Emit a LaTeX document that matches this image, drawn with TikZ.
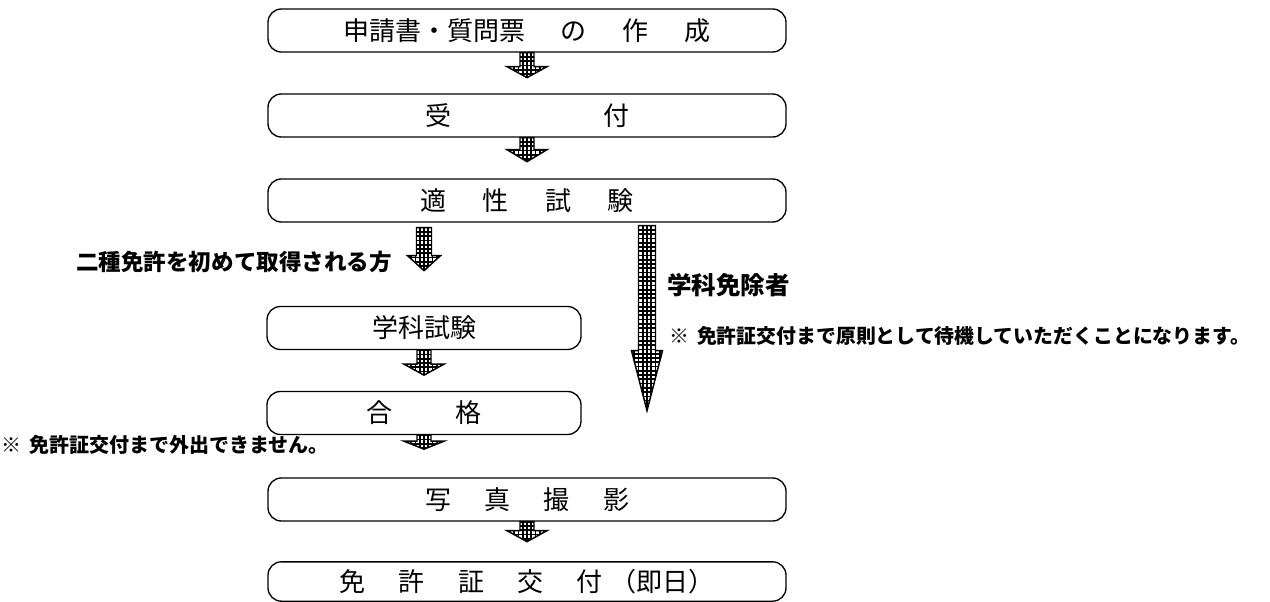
\documentclass[tikz,border=0pt]{standalone}
\usepackage{fontspec}
\setmainfont{Noto Sans CJK JP}
\usetikzlibrary{calc}
\tikzset{
  box/.style={draw, line width=1pt, rounded corners=10pt, inner sep=0pt,
    minimum height=32.25pt, font=\fontsize{19.5pt}{21pt}\selectfont},
  widebox/.style={box, minimum width=388.5pt},
  narrowbox/.style={box, minimum width=235.5pt},
  lab/.style={inner sep=0pt, font=\bfseries},
}
% #1 start point, #2 shaft half width, #3 head half width, #4 shaft length, #5 head length
\newcommand\gridarrow[5]{%
  \begin{scope}[shift={#1}]
    \begin{scope}
      \clip (-#2,0) -- (#2,0) -- (#2,#4) -- (#3,#4) -- (0,{#4+#5}) -- (-#3,#4) -- (-#2,#4) -- cycle;
      \fill[white] (-#3,-1) rectangle (#3,{#4+#5+1});
      \draw[line width=1.25pt] (-#3,-1) grid[step=3.2pt] (#3,{#4+#5+1});
    \end{scope}
    \draw[line width=1.1pt, line join=miter] (-#2,0) -- (#2,0) -- (#2,#4) -- (#3,#4) -- (0,{#4+#5}) -- (-#3,#4) -- (-#2,#4) -- cycle;
  \end{scope}}
\begin{document}
\begin{tikzpicture}[x=0.75pt,y=-0.75pt]
\useasboundingbox (0,0) rectangle (1270,602);
% boxes
\node[widebox] (b1) at (527,30.5) {申請書・質問票\hspace{27pt}の\hspace{27pt}作\hspace{27pt}成};
\node[widebox] (b2) at (527,115.5) {受\hspace{114pt}付};
\node[widebox] (b3) at (527,200.5) {適\hspace{27.5pt}性\hspace{27.5pt}試\hspace{27.5pt}験};
\node[narrowbox] (b4) at (424,328) {学科試験};
\node[narrowbox] (b5) at (424,413) {合\hspace{47pt}格};
\node[widebox] (b6) at (527,499.5) {写\hspace{25pt}真\hspace{25pt}撮\hspace{25pt}影};
\node[widebox, minimum height=29.5pt] (b7) at (527,581.5) {免\hspace{25pt}許\hspace{25pt}証\hspace{25pt}交\hspace{25pt}付\hspace{6pt}（即日）};
% small arrows between boxes
\gridarrow{(b1.south)}{7}{20}{14}{11}
\gridarrow{(b2.south)}{7}{20}{12}{12}
\gridarrow{(b4.south)}{7}{20}{14}{11}
\gridarrow{(b5.south)}{7}{20}{6}{8}
\gridarrow{(b6.south)}{7}{20}{9}{11}
% branch arrows
\gridarrow{($(b4.north |- b3.south)+(0,5)$)}{7.5}{16.5}{28}{15}
\coordinate (skipend) at (647,410);
\gridarrow{($(skipend |- b3.south)+(0,3)$)}{8.5}{15.5}{125}{60}
% labels
\node[lab, anchor=east, font=\bfseries\fontsize{16.9pt}{18pt}\selectfont] (t1) at (392,262) {二種免許を初めて取得される方};
\node[lab, anchor=west, font=\bfseries\fontsize{18.4pt}{20pt}\selectfont] (t2) at (667,285) {学科免除者};
\node[lab, anchor=west, font=\bfseries\fontsize{14.9pt}{16pt}\selectfont] (t3) at (669,336) {※\hspace{6pt}免許証交付まで原則として待機していただくことになります。};
\node[lab, anchor=west, font=\bfseries\fontsize{15pt}{16pt}\selectfont] (t4) at (1,445) {※\hspace{6pt}免許証交付まで外出できません。};
\end{tikzpicture}
\end{document}
